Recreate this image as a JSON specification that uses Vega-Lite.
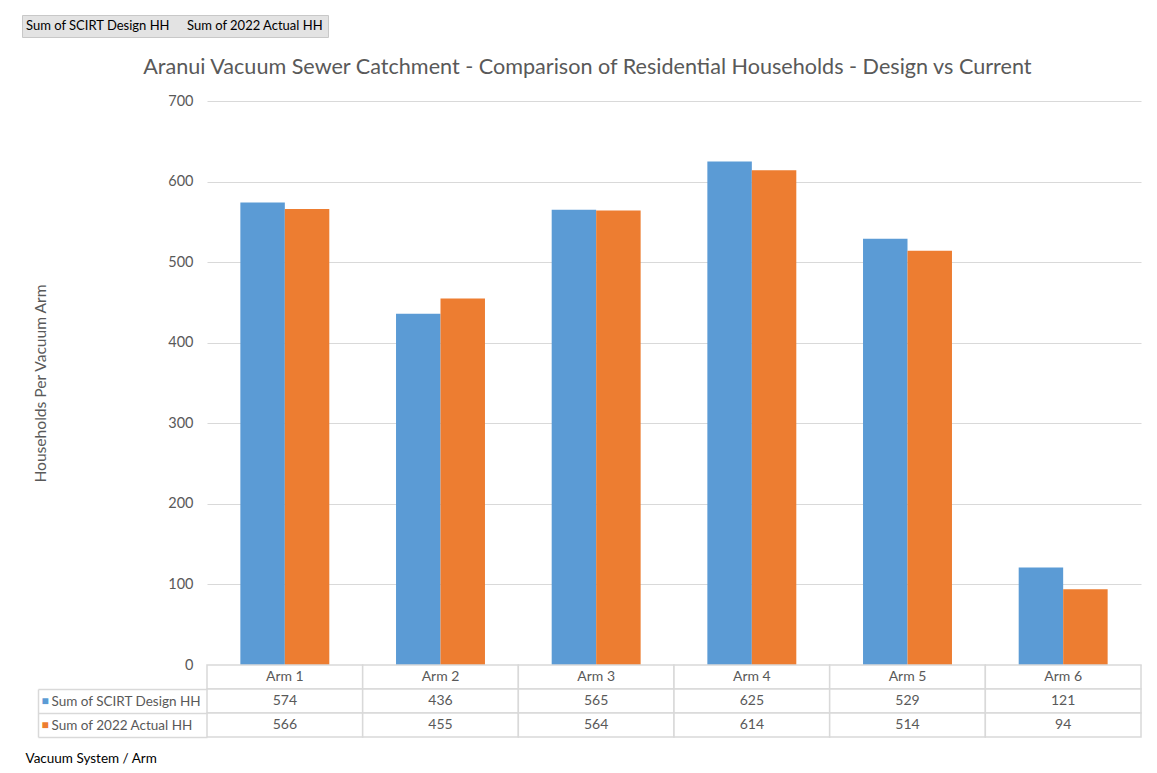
{
  "$schema": "https://vega.github.io/schema/vega-lite/v6.json",
  "padding": {"left": 21, "top": 14, "right": 17, "bottom": 5},
  "background": "white",
  "bounds": "flush",
  "spacing": 0,
  "config": {
    "view": {"stroke": null},
    "font": "Lato",
    "text": {"font": "Lato"}
  },
  "data": {
    "values": [
      {"arm": "Arm 1", "series": "Sum of SCIRT Design HH", "value": 574},
      {"arm": "Arm 1", "series": "Sum of 2022 Actual HH", "value": 566},
      {"arm": "Arm 2", "series": "Sum of SCIRT Design HH", "value": 436},
      {"arm": "Arm 2", "series": "Sum of 2022 Actual HH", "value": 455},
      {"arm": "Arm 3", "series": "Sum of SCIRT Design HH", "value": 565},
      {"arm": "Arm 3", "series": "Sum of 2022 Actual HH", "value": 564},
      {"arm": "Arm 4", "series": "Sum of SCIRT Design HH", "value": 625},
      {"arm": "Arm 4", "series": "Sum of 2022 Actual HH", "value": 614},
      {"arm": "Arm 5", "series": "Sum of SCIRT Design HH", "value": 529},
      {"arm": "Arm 5", "series": "Sum of 2022 Actual HH", "value": 514},
      {"arm": "Arm 6", "series": "Sum of SCIRT Design HH", "value": 121},
      {"arm": "Arm 6", "series": "Sum of 2022 Actual HH", "value": 94}
    ]
  },
  "vconcat": [
    {
      "width": 934,
      "height": 564,
      "title": {
        "text": "Aranui Vacuum Sewer Catchment - Comparison of Residential Households - Design vs Current",
        "fontSize": 21.6,
        "font": "Lato",
        "fontWeight": "normal",
        "color": "#595959",
        "anchor": "middle",
        "frame": "bounds",
        "offset": 14
      },
      "mark": {"type": "bar"},
      "encoding": {
        "x": {
          "field": "arm",
          "type": "nominal",
          "scale": {"domain": ["Arm 1", "Arm 2", "Arm 3", "Arm 4", "Arm 5", "Arm 6"], "paddingInner": 0, "paddingOuter": 0},
          "axis": null
        },
        "xOffset": {
          "field": "series",
          "type": "nominal",
          "scale": {"domain": ["Sum of SCIRT Design HH", "Sum of 2022 Actual HH"], "paddingInner": 0, "paddingOuter": 0.75}
        },
        "y": {
          "field": "value",
          "type": "quantitative",
          "scale": {"domain": [0, 700], "nice": false},
          "axis": {
            "title": "Households Per Vacuum Arm",
            "titleFontSize": 15.6,
            "titleColor": "#595959",
            "titleFontWeight": "normal",
            "titlePadding": 119,
            "labelFontSize": 14.5,
            "labelColor": "#595959",
            "labelPadding": 14,
            "ticks": false,
            "domain": false,
            "gridColor": "#d9d9d9",
            "values": [0, 100, 200, 300, 400, 500, 600, 700]
          }
        },
        "color": {
          "field": "series",
          "type": "nominal",
          "scale": {"domain": ["Sum of SCIRT Design HH", "Sum of 2022 Actual HH"], "range": ["#5b9bd5", "#ed7d31"]},
          "legend": {
            "orient": "none",
            "legendX": -185,
            "legendY": -86,
            "direction": "horizontal",
            "title": null,
            "fillColor": "#e3e3e3",
            "strokeColor": "#c8c8c8",
            "padding": 4,
            "symbolSize": 0,
            "symbolStrokeWidth": 0,
            "symbolOpacity": 0,
            "labelOffset": -13,
            "labelFontSize": 13,
            "labelColor": "black",
            "columnPadding": 16
          }
        }
      }
    },
    {
      "width": 934,
      "height": 24,
      "transform": [{"filter": "datum.series === 'Sum of SCIRT Design HH'"}],
      "encoding": {
        "x": {
          "field": "arm",
          "type": "nominal",
          "scale": {"domain": ["Arm 1", "Arm 2", "Arm 3", "Arm 4", "Arm 5", "Arm 6"], "paddingInner": 0, "paddingOuter": 0},
          "axis": null
        }
      },
      "layer": [
        {"mark": {"type": "rect", "fill": "white", "stroke": "#d9d9d9", "strokeWidth": 1.5}},
        {"mark": {"type": "text", "fontSize": 14, "color": "#595959"}, "encoding": {"text": {"field": "arm"}}}
      ]
    },
    {
      "width": 934,
      "height": 48,
      "encoding": {
        "x": {
          "field": "arm",
          "type": "nominal",
          "scale": {"domain": ["Arm 1", "Arm 2", "Arm 3", "Arm 4", "Arm 5", "Arm 6"], "paddingInner": 0, "paddingOuter": 0},
          "axis": {
            "labels": false,
            "ticks": false,
            "domain": false,
            "grid": false,
            "title": "Vacuum System / Arm",
            "titleX": -182,
            "titleY": 21,
            "titleAlign": "left",
            "titleBaseline": "middle",
            "titleFontSize": 13.5,
            "titleFontWeight": "normal",
            "titleColor": "black"
          }
        }
      },
      "layer": [
        {
          "mark": {"type": "rect", "fill": "white", "stroke": "#d9d9d9", "strokeWidth": 1.5},
          "encoding": {
            "y": {
              "field": "series",
              "type": "nominal",
              "scale": {"domain": ["Sum of SCIRT Design HH", "Sum of 2022 Actual HH"], "paddingInner": 0, "paddingOuter": 0},
              "axis": {
                "orient": "left",
                "title": null,
                "domain": false,
                "grid": false,
                "ticks": true,
                "tickBand": "extent",
                "tickSize": 169,
                "tickColor": "#d9d9d9",
                "tickWidth": 1.5,
                "labelAlign": "left",
                "labelPadding": -13,
                "labelFontSize": 13.5,
                "labelColor": "#595959"
              }
            }
          }
        },
        {
          "mark": {"type": "text", "fontSize": 14, "color": "#595959"},
          "encoding": {
            "y": {
              "field": "series",
              "type": "nominal",
              "axis": {
                "orient": "left",
                "offset": 169,
                "title": null,
                "domain": true,
                "domainColor": "#d9d9d9",
                "domainWidth": 1.5,
                "grid": false,
                "ticks": false,
                "labelAlign": "left",
                "labelPadding": -3,
                "labelExpr": "'■'",
                "labelFontSize": 12,
                "labelColor": {"condition": {"test": "datum.value === 'Sum of SCIRT Design HH'", "value": "#5b9bd5"}, "value": "#ed7d31"}
              }
            },
            "text": {"field": "value"}
          }
        }
      ],
      "resolve": {"axis": {"y": "independent"}}
    }
  ]
}
